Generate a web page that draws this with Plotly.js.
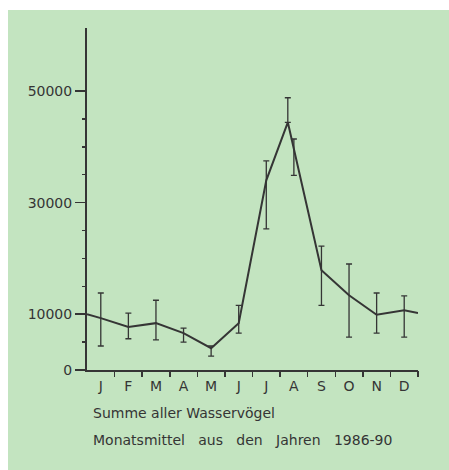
<!DOCTYPE html>
<html>
<head>
<meta charset="utf-8">
<script src="https://cdn.plot.ly/plotly-3.0.1.min.js"></script>
<style>
  html, body { margin: 0; padding: 0; background: #ffffff; }
  #chart { position: absolute; left: 8px; top: 10px; width: 441px; height: 460px; }
</style>
</head>
<body>
<div id="chart"></div>
<script>
// Month labels (x axis)
const monthLabels = ["J", "F", "M", "A", "M", "J", "J", "A", "S", "O", "N", "D"];
const monthCenters = [0.5, 1.5, 2.5, 3.5, 4.5, 5.5, 6.5, 7.5, 8.5, 9.5, 10.5, 11.5];
const monthBounds = [1, 2, 3, 4, 5, 6, 7, 8, 9, 10, 11, 12];

// Measured points (month position, mean, upper end of bar, lower end of bar)
const pointX    = [0.5, 1.5, 2.5, 3.5, 4.5, 5.5, 6.5, 7.28, 7.5, 8.5, 9.5, 10.5, 11.5];
const meanVals  = [9300, 7700, 8400, 6600, 3900, 8400, 34000, 44400, 39600, 17900, 13400, 9900, 10700];
const upperVals = [13800, 10200, 12500, 7500, 4300, 11600, 37500, 48800, 41400, 22200, 19000, 13800, 13300];
const lowerVals = [4300, 5600, 5400, 5000, 2500, 6600, 25300, 44400, 34900, 11600, 5900, 6600, 5900];

// Line continues to the axis ends
const lineStartX = 0,  lineStartY = 10000;
const lineEndX   = 12, lineEndY   = 10200;

// Y ticks
const yTickVals  = [0, 10000, 30000, 50000];
const yTickText  = ["0", "10000", "30000", "50000"];
const yMinorVals = [5000, 15000, 20000, 25000, 35000, 40000, 45000];

// Caption lines
const caption1 = "Summe aller Wasservögel";
const caption2 = "Monatsmittel\u00a0\u00a0 aus\u00a0\u00a0 den\u00a0\u00a0 Jahren\u00a0\u00a0 1986-90";

const ink = "#353535";
const bg = "#c3e4c0";
const font = { family: "DejaVu Sans", size: 14, color: ink };
const xRange = [0, 12];
const yRange = [0, 61300];

const lineTrace = {
  x: [lineStartX].concat(pointX, [lineEndX]),
  y: [lineStartY].concat(meanVals, [lineEndY]),
  mode: "lines",
  line: { color: ink, width: 2 },
  hoverinfo: "skip",
  showlegend: false
};

const barTrace = {
  x: pointX,
  y: meanVals,
  mode: "markers",
  marker: { size: 1, color: ink, opacity: 0 },
  error_y: {
    type: "data",
    symmetric: false,
    array: upperVals.map((u, i) => u - meanVals[i]),
    arrayminus: lowerVals.map((l, i) => meanVals[i] - l),
    color: ink,
    thickness: 1.3,
    width: 3
  },
  showlegend: false
};

// invisible carrier so the secondary (tick-only) axes are drawn
const tickAxisTrace = {
  x: [xRange[0]],
  y: [yRange[0]],
  xaxis: "x2",
  yaxis: "y2",
  mode: "markers",
  marker: { size: 1, opacity: 0 },
  hoverinfo: "skip",
  showlegend: false
};

const layout = {
  width: 441,
  height: 460,
  margin: { l: 79, r: 31, t: 18, b: 100 },
  paper_bgcolor: bg,
  plot_bgcolor: bg,
  font: font,
  showlegend: false,
  xaxis: {
    range: xRange,
    showline: true,
    linecolor: ink,
    linewidth: 2,
    showgrid: false,
    zeroline: false,
    tickmode: "array",
    tickvals: monthCenters,
    ticktext: monthLabels,
    ticks: "",
    ticklabelstandoff: 2,
    tickfont: font,
    fixedrange: true
  },
  xaxis2: {
    overlaying: "x",
    anchor: "y2",
    side: "bottom",
    range: xRange,
    showline: false,
    showgrid: false,
    zeroline: false,
    tickmode: "array",
    tickvals: monthBounds,
    ticks: "outside",
    ticklen: 6,
    tickwidth: 1.5,
    tickcolor: ink,
    showticklabels: false,
    fixedrange: true
  },
  yaxis: {
    range: yRange,
    showline: true,
    linecolor: ink,
    linewidth: 2,
    showgrid: false,
    zeroline: false,
    tickmode: "array",
    tickvals: yTickVals,
    ticktext: yTickText,
    ticks: "outside",
    ticklen: 10,
    tickwidth: 1.5,
    tickcolor: ink,
    tickfont: font,
    fixedrange: true
  },
  yaxis2: {
    overlaying: "y",
    anchor: "x2",
    side: "left",
    range: yRange,
    showline: false,
    showgrid: false,
    zeroline: false,
    tickmode: "array",
    tickvals: yMinorVals,
    ticks: "outside",
    ticklen: 4,
    tickwidth: 1.5,
    tickcolor: ink,
    showticklabels: false,
    fixedrange: true
  },
  annotations: [
    {
      xref: "paper", yref: "paper", x: 0.012, y: -0.126,
      xanchor: "left", yanchor: "middle", showarrow: false,
      text: caption1, font: font
    },
    {
      xref: "paper", yref: "paper", x: 0.012, y: -0.205,
      xanchor: "left", yanchor: "middle", showarrow: false,
      text: caption2, font: font
    }
  ]
};

Plotly.newPlot("chart", [tickAxisTrace, lineTrace, barTrace], layout, { displayModeBar: false, staticPlot: true });
</script>
</body>
</html>
